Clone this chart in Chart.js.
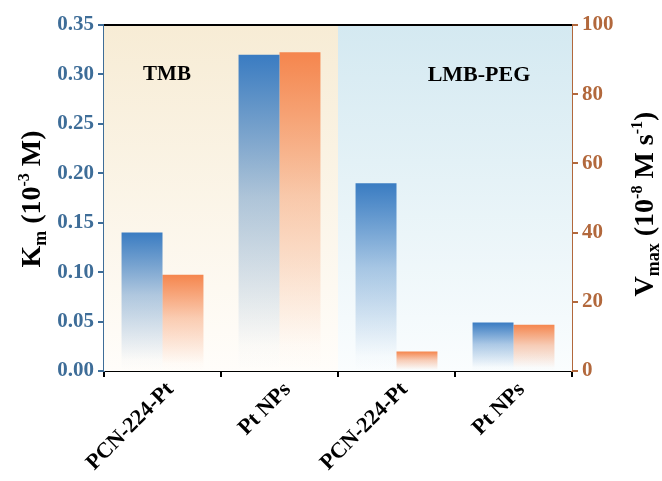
<!DOCTYPE html>
<html>
<head>
<meta charset="utf-8">
<script src="https://cdn.jsdelivr.net/npm/chart.js@4.4.0/dist/chart.umd.min.js"></script>
<style>
  html, body { margin: 0; padding: 0; background: #fff; }
  #wrap { width: 662px; height: 481px; }
</style>
</head>
<body>
<div id="wrap"><canvas id="chart" width="662" height="481"></canvas></div>
<script>
// categories and values
const categories = ['PCN-224-Pt', 'Pt NPs', 'PCN-224-Pt', 'Pt NPs'];
const kmValues = [0.14, 0.32, 0.19, 0.049];     // 10^-3 M
const vmaxValues = [27.8, 92.1, 5.6, 13.4];     // 10^-8 M s^-1
const kmTicks = [0, 0.05, 0.10, 0.15, 0.20, 0.25, 0.30, 0.35];
const vmaxTicks = [0, 20, 40, 60, 80, 100];
const groupLabels = ['TMB', 'LMB-PEG'];

const FONT = '"Liberation Serif", "Times New Roman", serif';
const BLUE_AXIS = '#3e6d98';
const BROWN_AXIS = '#b2683c';

// vertical fade for each bar, strong at top, white at base
function barFade(rgb) {
  return function (ctx) {
    const chart = ctx.chart;
    const ds = chart.data.datasets[ctx.datasetIndex];
    const sc = chart.scales[ds.yAxisID];
    if (!sc || ctx.raw == null) return 'rgb(' + rgb + ')';
    const top = sc.getPixelForValue(ctx.raw);
    const base = sc.getPixelForValue(0);
    if (!isFinite(top) || !isFinite(base) || top === base) return 'rgb(' + rgb + ')';
    const g = chart.ctx.createLinearGradient(0, top, 0, base);
    g.addColorStop(0, 'rgba(' + rgb + ',1)');
    g.addColorStop(0.45, 'rgba(' + rgb + ',0.4)');
    g.addColorStop(0.92, 'rgba(' + rgb + ',0.02)');
    g.addColorStop(1, 'rgba(' + rgb + ',0)');
    return g;
  };
}

// split background, frame line and hand-drawn labels
const decor = {
  id: 'decor',
  beforeDatasetsDraw(chart) {
    const { ctx, chartArea: a, scales } = chart;
    const mid = (scales.x.getPixelForValue(1) + scales.x.getPixelForValue(2)) / 2;
    ctx.save();
    let g = ctx.createLinearGradient(0, a.top, 0, a.bottom);
    g.addColorStop(0, '#f7ecd5');
    g.addColorStop(1, '#fffdfa');
    ctx.fillStyle = g;
    ctx.fillRect(a.left, a.top, mid - a.left, a.bottom - a.top);
    g = ctx.createLinearGradient(0, a.top, 0, a.bottom);
    g.addColorStop(0, '#d4e9f1');
    g.addColorStop(1, '#fafdfe');
    ctx.fillStyle = g;
    ctx.fillRect(mid, a.top, a.right - mid, a.bottom - a.top);

    ctx.fillStyle = '#000';
    ctx.font = 'bold 21px ' + FONT;
    ctx.textAlign = 'center';
    ctx.textBaseline = 'middle';
    ctx.fillText(groupLabels[0], 167, 75);
    ctx.font = 'bold 22px ' + FONT;
    ctx.fillText(groupLabels[1], 479, 75);
    ctx.restore();
  },
  afterDraw(chart) {
    const { ctx, chartArea: a } = chart;
    ctx.save();
    ctx.strokeStyle = '#000';
    ctx.lineWidth = 2;
    ctx.beginPath();
    ctx.moveTo(a.left, a.top);
    ctx.lineTo(a.right, a.top);
    ctx.stroke();

    ctx.fillStyle = '#000';
    ctx.textBaseline = 'alphabetic';
    // left title: K_m (10^-3 M)
    drawRich(ctx, 40, 199, [
      ['K', 28, 0], ['m', 18, 6], [' (10', 28, 0], ['-3', 16, -11], [' M)', 28, 0]
    ]);
    // right title: V_max (10^-8 M s^-1)
    drawRich(ctx, 653, 204, [
      ['V', 28, 0], ['max', 18, 6], [' (10', 28, 0], ['-8', 16, -11], [' M s', 28, 0], ['-1', 16, -11], [')', 28, 0]
    ]);
    ctx.restore();
  }
};

// rotated text with sub/superscript runs, centred on (cx, cy)
function drawRich(ctx, cx, cy, parts) {
  let total = 0;
  parts.forEach(p => { ctx.font = 'bold ' + p[1] + 'px ' + FONT; total += ctx.measureText(p[0]).width; });
  ctx.save();
  ctx.translate(cx, cy);
  ctx.rotate(-Math.PI / 2);
  let x = -total / 2;
  parts.forEach(p => {
    ctx.font = 'bold ' + p[1] + 'px ' + FONT;
    ctx.fillText(p[0], x, p[2]);
    x += ctx.measureText(p[0]).width;
  });
  ctx.restore();
}

new Chart(document.getElementById('chart'), {
  type: 'bar',
  data: {
    labels: categories,
    datasets: [
      { label: 'Km', data: kmValues, yAxisID: 'yKm', backgroundColor: barFade('58,124,194') },
      { label: 'Vmax', data: vmaxValues, yAxisID: 'yV', backgroundColor: barFade('245,134,78') }
    ]
  },
  options: {
    responsive: false,
    animation: false,
    layout: { padding: { top: 25, left: 0, right: 0, bottom: 0 } },
    datasets: { bar: { categoryPercentage: 0.7, barPercentage: 1.0, borderWidth: 0 } },
    plugins: { legend: { display: false }, tooltip: { enabled: false } },
    scales: {
      x: {
        afterFit(s) { s.height = 110; },
        grid: { display: true, drawOnChartArea: false, drawTicks: true, tickLength: 6, color: '#000', lineWidth: 2 },
        border: { color: '#000', width: 2 },
        ticks: {
          color: '#000', minRotation: 45, maxRotation: 45, padding: 0, labelOffset: 8,
          font: { family: FONT, size: 22, weight: 'bold' }
        }
      },
      yKm: {
        position: 'left', min: 0, max: 0.35,
        afterFit(s) { s.width = 104; },
        afterBuildTicks(s) { s.ticks = kmTicks.map(v => ({ value: v })); },
        grid: { drawOnChartArea: false, tickLength: 6, color: BLUE_AXIS, lineWidth: 2 },
        border: { color: BLUE_AXIS, width: 2 },
        ticks: {
          color: BLUE_AXIS, padding: 4,
          font: { family: FONT, size: 21, weight: 'bold' },
          callback: v => v.toFixed(2)
        }
      },
      yV: {
        position: 'right', min: 0, max: 100,
        afterFit(s) { s.width = 90; },
        afterBuildTicks(s) { s.ticks = vmaxTicks.map(v => ({ value: v })); },
        grid: { drawOnChartArea: false, tickLength: 6, color: BROWN_AXIS, lineWidth: 2 },
        border: { color: BROWN_AXIS, width: 2 },
        ticks: {
          color: BROWN_AXIS, padding: 4,
          font: { family: FONT, size: 21, weight: 'bold' },
          callback: v => String(v)
        }
      }
    }
  },
  plugins: [decor]
});
</script>
</body>
</html>
